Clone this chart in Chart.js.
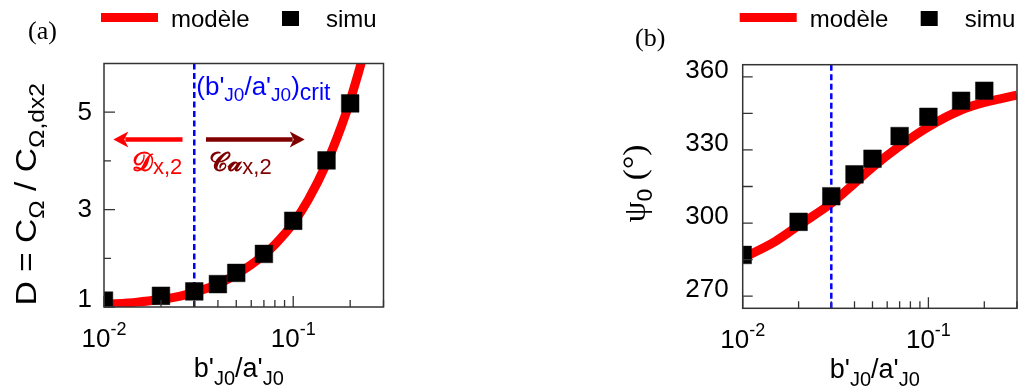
<!DOCTYPE html>
<html><head><meta charset="utf-8">
<script src="https://cdn.jsdelivr.net/npm/chart.js@4.4.0/dist/chart.umd.min.js"></script>
<style>
html,body{margin:0;padding:0;background:#fff;overflow:hidden;width:1021px;height:392px;position:relative;}
#wa{position:absolute;left:0;top:0;width:510px;height:392px;}
#wb{position:absolute;left:510px;top:0;width:520px;height:392px;}
canvas{display:block;}
</style></head><body>
<div id="wa"><canvas id="ca" width="510" height="392"></canvas></div>
<div id="wb"><canvas id="cb" width="520" height="392"></canvas></div>
<script>
// ---------- data ----------
const ratioSimu = [0.01, 0.02, 0.03, 0.04, 0.05, 0.07, 0.1, 0.15, 0.2];
const dSimu     = [1.13, 1.23, 1.32, 1.47, 1.70, 2.09, 2.77, 4.01, 5.18];
const psiSimu   = [286.9, 300.5, 311.0, 320.0, 326.4, 335.7, 343.6, 350.2, 354.3];

const ratioModelA = [0.01, 0.015, 0.02, 0.025, 0.03, 0.04, 0.05, 0.06, 0.07, 0.08, 0.09, 0.1, 0.12, 0.15, 0.18, 0.2, 0.22, 0.24];
const dModel      = [1.05, 1.10, 1.16, 1.22, 1.30, 1.47, 1.67, 1.87, 2.07, 2.28, 2.50, 2.72, 3.20, 3.95, 4.72, 5.24, 5.78, 6.30];

const ratioModelB = [0.01, 0.015, 0.02, 0.03, 0.04, 0.05, 0.07, 0.1, 0.15, 0.2, 0.25, 0.3];
const psiModel    = [285.6, 292.5, 299.0, 308.1, 316.3, 322.9, 331.6, 339.5, 346.4, 349.5, 351.2, 352.5];

const ratioCrit = 0.03;

const xTicks      = [0.01, 0.02, 0.03, 0.04, 0.05, 0.06, 0.07, 0.08, 0.09, 0.1, 0.2, 0.3];
const xMajor      = [0.01, 0.1];
const xTickLabels = [['10', '-2'], ['10', '-1']];
const yTicksA     = [1, 2, 3, 4, 5];
const yLabelsA    = ['1', '', '3', '', '5'];
const yTicksB     = [270, 285, 300, 315, 330, 345, 360];
const yLabelsB    = ['270', '', '300', '', '330', '', '360'];

const seriesNames = ['modèle', 'simu'];

// ---------- helpers ----------
const SANS = '"Liberation Sans", Arial, sans-serif';
const SERIF = '"Liberation Serif", "Times New Roman", serif';
function richWidth(ctx, segs) {
  let w = 0;
  for (const s of segs) { ctx.font = s.f; w += ctx.measureText(s.t).width; }
  return w;
}
function drawRich(ctx, segs, x, y, o) {
  o = o || {};
  ctx.save();
  ctx.translate(x, y);
  if (o.rot) ctx.rotate(o.rot);
  if (o.sx) ctx.scale(o.sx, 1);
  const w = richWidth(ctx, segs);
  let cx = o.align === 'center' ? -w / 2 : o.align === 'right' ? -w : 0;
  ctx.textBaseline = 'alphabetic';
  ctx.textAlign = 'left';
  for (const s of segs) {
    ctx.font = s.f;
    ctx.fillStyle = s.c || o.color || '#000';
    ctx.fillText(s.t, cx, s.dy || 0);
    cx += ctx.measureText(s.t).width;
  }
  ctx.restore();
}
function arrow(ctx, x1, x2, y, color) {
  const dir = Math.sign(x2 - x1);
  const hl = 15, hw = 8;
  ctx.save();
  ctx.strokeStyle = color; ctx.fillStyle = color; ctx.lineWidth = 4.5;
  ctx.beginPath(); ctx.moveTo(x1, y); ctx.lineTo(x2 - dir * (hl - 3), y); ctx.stroke();
  ctx.beginPath();
  ctx.moveTo(x2, y);
  ctx.lineTo(x2 - dir * hl, y - hw);
  ctx.lineTo(x2 - dir * (hl - 4), y);
  ctx.lineTo(x2 - dir * hl, y + hw);
  ctx.closePath(); ctx.fill();
  ctx.restore();
}

const decor = {
  id: 'decor',
  afterDraw(chart, args, opts) {
    const ctx = chart.ctx;
    const a = chart.chartArea;
    const xs = chart.scales.x, ys = chart.scales.y;
    ctx.save();
    // frame
    ctx.strokeStyle = '#333'; ctx.lineWidth = 1.5;
    ctx.strokeRect(a.left, a.top, a.right - a.left, a.bottom - a.top);
    // x ticks (inward)
    ctx.lineWidth = 1.3;
    ctx.beginPath();
    for (const v of xTicks) {
      const px = xs.getPixelForValue(v);
      const len = xMajor.includes(v) ? 11 : 7;
      ctx.moveTo(px, a.bottom); ctx.lineTo(px, a.bottom - len);
    }
    // y ticks
    opts.yTicks.forEach((v, i) => {
      const py = ys.getPixelForValue(v);
      const len = opts.yLabels[i] || opts.allYMajor ? opts.yTickLen : 7;
      ctx.moveTo(a.left, py); ctx.lineTo(a.left + len, py);
    });
    ctx.stroke();
    // y tick labels
    ctx.fillStyle = '#000';
    opts.yTicks.forEach((v, i) => {
      const lab = opts.yLabels[i];
      if (!lab) return;
      let py = ys.getPixelForValue(v) + opts.yLabShift;
      if (v === opts.yMin) py += opts.yMinShift;
      drawRich(ctx, [{t: lab, f: '26px ' + SANS}], a.left - opts.yLabGap, py + 9.3, {align: 'right'});
    });
    // x tick labels
    xMajor.forEach((v, i) => {
      const px = xs.getPixelForValue(v);
      drawRich(ctx, [
        {t: xTickLabels[i][0], f: '26px ' + SANS},
        {t: xTickLabels[i][1], f: '18px ' + SANS, dy: -12}
      ], px, a.bottom + 40, {align: 'center'});
    });
    // x title
    const sub = '20px ' + SANS, main = '27px ' + SANS;
    drawRich(ctx, [
      {t: "b'", f: main}, {t: 'J0', f: sub, dy: 8},
      {t: '/', f: main}, {t: "a'", f: main}, {t: 'J0', f: sub, dy: 8}
    ], (a.left + a.right) / 2 + opts.xTitleDx, a.bottom + 70, {align: 'center'});
    // y title
    drawRich(ctx, opts.yTitle, opts.yTitleX, (a.top + a.bottom) / 2 + opts.yTitleDy, {align: 'center', rot: -Math.PI / 2, sx: opts.yTitleSx});
    // panel letter
    drawRich(ctx, [{t: opts.letter, f: '26px ' + SERIF}], opts.letterX, opts.letterY);
    // legend
    const lx = a.left - 3, ly = 17.5;
    ctx.strokeStyle = '#ff0000'; ctx.lineWidth = 9;
    ctx.beginPath(); ctx.moveTo(lx, ly); ctx.lineTo(lx + 57, ly); ctx.stroke();
    drawRich(ctx, [{t: seriesNames[0], f: '24px ' + SANS}], lx + 70, 27);
    ctx.fillStyle = '#000';
    ctx.fillRect(lx + 181, ly - 6.5, 17, 15);
    drawRich(ctx, [{t: seriesNames[1], f: '24px ' + SANS}], lx + 225, 27);
    // annotations
    if (opts.annot) {
      const pc = xs.getPixelForValue(ratioCrit);
      drawRich(ctx, [
        {t: '(', f: '26px ' + SANS}, {t: "b'", f: '26px ' + SANS}, {t: 'J0', f: '19px ' + SANS, dy: 6},
        {t: '/', f: '26px ' + SANS}, {t: "a'", f: '26px ' + SANS}, {t: 'J0', f: '19px ' + SANS, dy: 6},
        {t: ')', f: '26px ' + SANS}, {t: 'crit', f: '23px ' + SANS, dy: 5}
      ], pc + 2, a.top + 31, {color: '#0000ff'});
      const ay = ys.getPixelForValue(4.44);
      arrow(ctx, xs.getPixelForValue(0.026), xs.getPixelForValue(0.0112), ay, '#ff0000');
      arrow(ctx, xs.getPixelForValue(0.0346), xs.getPixelForValue(0.115), ay, '#800000');
      drawRich(ctx, [
        {t: '\u{1D49F}', f: 'bold 26px "DejaVu Serif", ' + SERIF}, {t: 'x,2', f: '22px ' + SANS, dy: 3}
      ], pc - 12, ay + 32, {align: 'right', color: '#ff0000'});
      drawRich(ctx, [
        {t: '\u{1D49E}\u{1D4B6}', f: 'bold 26px "DejaVu Serif", ' + SERIF}, {t: 'x,2', f: '22px ' + SANS, dy: 3}
      ], pc + 15, ay + 32, {color: '#800000'});
    }
    ctx.restore();
  }
};

function pts(xsArr, ysArr) { return xsArr.map((x, i) => ({x: x, y: ysArr[i]})); }

function makeChart(id, cfg) {
  return new Chart(document.getElementById(id), {
    type: 'line',
    data: {datasets: [
      {label: seriesNames[1], data: pts(ratioSimu, cfg.simu), showLine: false, pointStyle: 'rect',
       pointRadius: 12.5, pointHoverRadius: 12.5, pointBackgroundColor: '#000', pointBorderColor: '#111',
       pointBorderWidth: 0.5, order: 0, clip: 0},
      {label: 'crit', data: [{x: ratioCrit, y: cfg.yMin}, {x: ratioCrit, y: cfg.yMax}],
       borderColor: '#0000ff', borderWidth: 2.5, borderDash: [6, 3.5], pointRadius: 0, order: 1, clip: 0},
      {label: seriesNames[0], data: pts(cfg.mx, cfg.my), borderColor: '#ff0000', borderWidth: 9,
       pointRadius: 0, cubicInterpolationMode: 'monotone', order: 2, clip: 0, fill: false}
    ]},
    options: {
      responsive: false, animation: false, events: [],
      layout: {padding: cfg.padding},
      scales: {
        x: {type: 'logarithmic', min: 0.01, max: 0.3, display: false},
        y: {type: 'linear', min: cfg.yMin, max: cfg.yMax, display: false}
      },
      plugins: {legend: {display: false}, tooltip: {enabled: false}, decor: cfg.decor}
    },
    plugins: [decor]
  });
}

makeChart('ca', {
  simu: dSimu, mx: ratioModelA, my: dModel, yMin: 1, yMax: 6,
  padding: {left: 104, top: 63.5, right: 126.5, bottom: 85},
  decor: {
    yTicks: yTicksA, yLabels: yLabelsA, yTickLen: 11, allYMajor: false, yMin: 1,
    yLabShift: -2, yMinShift: -7, yLabGap: 12, xTitleDx: -5,
    yTitle: [
      {t: 'D = C', f: '30px ' + SANS}, {t: 'Ω', f: '22px ' + SANS, dy: 8},
      {t: ' / C', f: '30px ' + SANS}, {t: 'Ω,dx2', f: '22px ' + SANS, dy: 8}
    ],
    yTitleX: 36, yTitleDy: 9, yTitleSx: 1.12,
    letter: '(a)', letterX: 28, letterY: 39, annot: true
  }
});

makeChart('cb', {
  simu: psiSimu, mx: ratioModelB, my: psiModel, yMin: 265, yMax: 365,
  padding: {left: 232.7, top: 64.7, right: 8.4, bottom: 83.7},
  decor: {
    yTicks: yTicksB, yLabels: yLabelsB, yTickLen: 10, allYMajor: true, yMin: 265,
    yLabShift: -8.5, yMinShift: 0, yLabGap: 14, xTitleDx: -5,
    yTitle: [
      {t: 'ψ', f: '32px ' + SERIF}, {t: '0', f: '22px ' + SANS, dy: 7},
      {t: ' (°)', f: '32px ' + SERIF}
    ],
    yTitleX: 135, yTitleDy: -3, yTitleSx: 1.05,
    letter: '(b)', letterX: 125, letterY: 46, annot: false
  }
});
</script>
</body></html>
